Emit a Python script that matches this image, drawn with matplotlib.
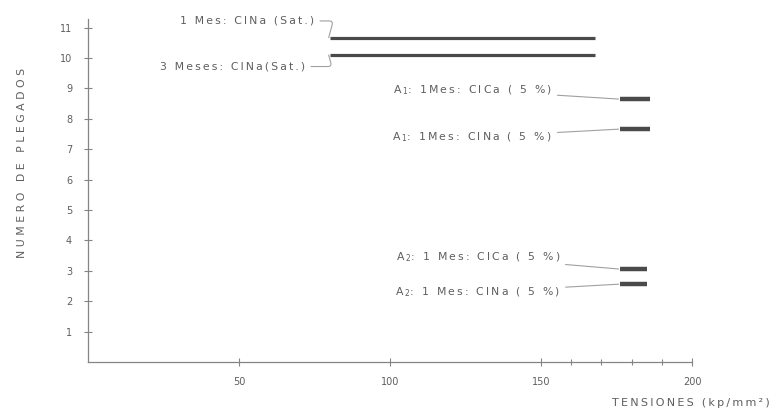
import matplotlib
matplotlib.use("Agg")
import matplotlib.pyplot as plt

# Folding tests: number of folds reached at each tension range
series_labels = [
    "1 Mes: ClNa (Sat.)",
    "3 Meses: ClNa(Sat.)",
    "A$_1$: 1Mes: ClCa ( 5 %)",
    "A$_1$: 1Mes: ClNa ( 5 %)",
    "A$_2$: 1 Mes: ClCa ( 5 %)",
    "A$_2$: 1 Mes: ClNa ( 5 %)",
]
tension_start = [80, 80, 176, 176, 176, 176]
tension_end = [168, 168, 186, 186, 185, 185]
folds = [10.67, 10.1, 8.65, 7.66, 3.06, 2.56]

x_ticks = [50, 100, 150, 200]
x_minor = [160, 170, 180, 190]
y_ticks = list(range(1, 12))

text_color = "#5e5e5e"
line_color = "#4a4a4a"
axis_color = "#858585"

THIN = "\u2009"


def spaced(s, gap=THIN):
    """Letter-space a label, leaving $...$ math segments intact."""
    out, in_math = [], False
    for ch in s:
        if ch == "$":
            in_math = not in_math
            out.append(ch)
            continue
        out.append(ch)
        if not in_math:
            out.append(gap)
    return "".join(out).rstrip(gap)


fig = plt.figure(figsize=(7.78, 4.15), dpi=100)
ax = fig.add_axes([0.1131, 0.1277, 0.7764, 0.8277])

for x0, x1, y in zip(tension_start, tension_end, folds):
    lw = 2.3 if x1 - x0 > 20 else 3.2
    ax.plot([x0, x1], [y, y], color=line_color, lw=lw, solid_capstyle="butt")

# label placement (text anchor in data units) and leader style
label_pos = [(75, 11.22), (72, 9.72), (153.6, 8.95), (153.6, 7.40), (156.3, 3.45), (156.3, 2.30)]
leader_style = [
    "angle,angleA=0,angleB=75,rad=4",
    "angle,angleA=0,angleB=-75,rad=4",
    "arc3", "arc3", "arc3", "arc3",
]
for lab, (tx, ty), cs, x0, y in zip(series_labels, label_pos, leader_style, tension_start, folds):
    ax.annotate(spaced(lab), xy=(x0 - 0.3, y), xytext=(tx, ty), textcoords="data",
                ha="right", va="center", fontsize=7.8, color=text_color,
                arrowprops=dict(arrowstyle="-", color="#a0a0a0", lw=0.8,
                                connectionstyle=cs, shrinkA=2, shrinkB=0))

ax.set_xlim(0, 200)
ax.set_ylim(0, 11.3)
ax.set_xticks(x_ticks)
ax.set_xticks(x_minor, minor=True)
ax.set_yticks(y_ticks)
ax.set_yticklabels([str(v) for v in y_ticks])

for side in ("top", "right"):
    ax.spines[side].set_visible(False)
for side in ("left", "bottom"):
    ax.spines[side].set_color(axis_color)
    ax.spines[side].set_linewidth(0.9)

ax.tick_params(axis="both", which="both", direction="inout", color=axis_color,
               labelcolor=text_color, labelsize=7, width=0.8)
ax.tick_params(axis="both", which="major", length=6)
ax.tick_params(axis="x", which="minor", length=5)
ax.tick_params(axis="x", pad=8)
ax.tick_params(axis="y", pad=8.5)

fig.text(0.028, 0.607, "N U M E R O   D E   P L E G A D O S", rotation=90,
         ha="center", va="center", fontsize=7.8, color=text_color)
fig.text(0.99, 0.03, spaced("TENSIONES (kp/mm²)"), ha="right", va="center",
         fontsize=8, color=text_color)

fig.savefig("out.png", dpi=100, facecolor="white")
